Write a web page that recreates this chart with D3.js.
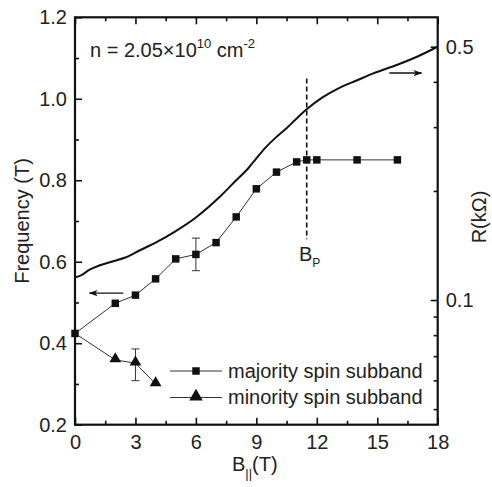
<!DOCTYPE html>
<html><head><meta charset="utf-8">
<script src="https://cdn.jsdelivr.net/npm/d3@7/dist/d3.min.js"></script>
<style>
body{margin:0;background:#fff;}
text{font-family:"Liberation Sans",Arial,Helvetica,sans-serif;fill:#222;}
</style></head>
<body><svg id="c" width="492" height="487"></svg>
<script>
// ---- data ----
const majorityB = [0, 2, 3, 4, 5, 6, 7, 8, 9, 10, 11, 11.5, 12, 14, 16];
const majorityF = [0.424, 0.498, 0.518, 0.558, 0.607, 0.618, 0.647, 0.710, 0.779, 0.820, 0.845, 0.850, 0.850, 0.850, 0.850];
const minorityB = [0, 2, 3, 4];
const minorityF = [0.424, 0.359, 0.351, 0.300];
const errorB = [6, 3];
const errorLow = [0.578, 0.308];
const errorHigh = [0.658, 0.386];
const curveB = [0, 0.3, 0.75, 1.2, 1.9, 2.5, 3.2, 4.0, 5.0, 6.0, 7.2, 8.0, 8.6, 9.0, 9.5, 10.0, 10.5, 11.0, 11.5, 12.3, 13.2, 14.0, 14.8, 16.0, 17.0, 18.0];
const curveR = [0.1155, 0.117, 0.1215, 0.1245, 0.128, 0.131, 0.137, 0.144, 0.155, 0.169, 0.193, 0.214, 0.231, 0.246, 0.265, 0.282, 0.298, 0.317, 0.336, 0.363, 0.387, 0.404, 0.422, 0.446, 0.470, 0.500];
const xTicks = [0, 3, 6, 9, 12, 15, 18];
const xMinor = [1.5, 4.5, 7.5, 10.5, 13.5, 16.5];
const yTicks = [0.2, 0.4, 0.6, 0.8, 1.0, 1.2];
const yMinor = [0.3, 0.5, 0.7, 0.9, 1.1];
const rTicks = [0.1, 0.5];
const rMinor = [0.05, 0.06, 0.07, 0.08, 0.09, 0.2, 0.3, 0.4];
const legendLabels = ["majority spin subband", "minority spin subband"];
const bP = 11.5, bPrange = [0.655, 1.05];

// ---- scales ----
const L = 75, R = 437.7, T = 17.3, B = 424.7;
const x = d3.scaleLinear().domain([0, 18]).range([L, R]);
const y = d3.scaleLinear().domain([0.2, 1.2]).range([B, T]);
const yr = d3.scaleLog().domain([0.04529, 0.6028]).range([B, T]);

const svg = d3.select("#c");
const fs = 20;

function styleAxis(g) {
  g.selectAll(".domain").remove();
  g.selectAll(".tick line").attr("stroke", "#111").attr("stroke-width", 1.6);
  g.selectAll(".tick text").attr("font-size", fs).attr("fill", "#222")
    .style("font-family", '"Liberation Sans",Arial,sans-serif');
}
// bottom
svg.append("g").attr("transform", `translate(0,${B})`)
  .call(d3.axisBottom(x).tickValues(xTicks).tickSize(-7).tickPadding(10).tickFormat(d3.format("d")))
  .call(styleAxis);
svg.append("g").attr("transform", `translate(0,${B})`)
  .call(d3.axisBottom(x).tickValues(xMinor).tickSize(-4).tickFormat(""))
  .call(styleAxis);
// top
svg.append("g").attr("transform", `translate(0,${T})`)
  .call(d3.axisTop(x).tickValues(xTicks).tickSize(-7).tickFormat(""))
  .call(styleAxis);
svg.append("g").attr("transform", `translate(0,${T})`)
  .call(d3.axisTop(x).tickValues(xMinor).tickSize(-4).tickFormat(""))
  .call(styleAxis);
// left
svg.append("g").attr("transform", `translate(${L},0)`)
  .call(d3.axisLeft(y).tickValues(yTicks).tickSize(-7).tickPadding(8).tickFormat(d3.format(".1f")))
  .call(styleAxis);
svg.append("g").attr("transform", `translate(${L},0)`)
  .call(d3.axisLeft(y).tickValues(yMinor).tickSize(-4).tickFormat(""))
  .call(styleAxis);
// right
svg.append("g").attr("transform", `translate(${R},0)`)
  .call(d3.axisRight(yr).tickValues(rTicks).tickSize(-7).tickPadding(8).tickFormat(d3.format(".1f")))
  .call(styleAxis);
svg.append("g").attr("transform", `translate(${R},0)`)
  .call(d3.axisRight(yr).tickValues(rMinor).tickSize(-4).tickFormat(""))
  .call(styleAxis);

// frame
svg.append("rect").attr("x", L).attr("y", T).attr("width", R - L).attr("height", B - T)
  .attr("fill", "none").attr("stroke", "#111").attr("stroke-width", 2.2);

// resistance curve
const curve = curveB.map((b, i) => [b, curveR[i]]);
svg.append("path").datum(curve)
  .attr("d", d3.line().x(d => x(d[0])).y(d => yr(d[1])).curve(d3.curveMonotoneX))
  .attr("fill", "none").attr("stroke", "#111").attr("stroke-width", 2);

// dashed Bp line
svg.append("line").attr("x1", x(bP)).attr("x2", x(bP)).attr("y1", y(bPrange[1])).attr("y2", y(bPrange[0]))
  .attr("stroke", "#111").attr("stroke-width", 1.6).attr("stroke-dasharray", "5,3");

// error bars
errorB.forEach((b, i) => {
  const g = svg.append("g").attr("stroke", "#333").attr("stroke-width", 1);
  g.append("line").attr("x1", x(b)).attr("x2", x(b)).attr("y1", y(errorLow[i])).attr("y2", y(errorHigh[i]));
  [errorLow[i], errorHigh[i]].forEach(v => g.append("line").attr("x1", x(b) - 4).attr("x2", x(b) + 4).attr("y1", y(v)).attr("y2", y(v)));
});

// series lines
const maj = majorityB.map((b, i) => [b, majorityF[i]]);
const minr = minorityB.map((b, i) => [b, minorityF[i]]);
const line = d3.line().x(d => x(d[0])).y(d => y(d[1]));
svg.append("path").datum(maj).attr("d", line).attr("fill", "none").attr("stroke", "#333").attr("stroke-width", 1);
svg.append("path").datum(minr).attr("d", line).attr("fill", "none").attr("stroke", "#333").attr("stroke-width", 1);

const sq = d3.symbol().type(d3.symbolSquare).size(56);
const tri = d3.symbol().type(d3.symbolTriangle).size(60);
svg.selectAll(".sq").data(maj).enter().append("path")
  .attr("transform", d => `translate(${x(d[0])},${y(d[1])})`).attr("d", sq).attr("fill", "#111");
svg.selectAll(".tri").data(minr.slice(1)).enter().append("path")
  .attr("transform", d => `translate(${x(d[0])},${y(d[1]) - 1})`).attr("d", tri).attr("fill", "#111");

// arrows
svg.append("defs").append("marker").attr("id", "ah").attr("viewBox", "0 0 10 10")
  .attr("refX", 9).attr("refY", 5).attr("markerWidth", 9).attr("markerHeight", 9)
  .attr("markerUnits", "userSpaceOnUse").attr("orient", "auto")
  .append("path").attr("d", "M0,1.5 L10,5 L0,8.5 L2.5,5 Z").attr("fill", "#111");
svg.append("line").attr("x1", x(2.4)).attr("x2", x(0.72)).attr("y1", y(0.523)).attr("y2", y(0.523))
  .attr("stroke", "#111").attr("stroke-width", 1.4).attr("marker-end", "url(#ah)");
svg.append("line").attr("x1", x(15.6)).attr("x2", x(17.2)).attr("y1", yr(0.423)).attr("y2", yr(0.423))
  .attr("stroke", "#111").attr("stroke-width", 1.4).attr("marker-end", "url(#ah)");

// legend
const lg = svg.append("g");
[0, 1].forEach(i => {
  const yy = 371 + i * 26.5;
  lg.append("line").attr("x1", 170).attr("x2", 222).attr("y1", yy).attr("y2", yy).attr("stroke", "#333").attr("stroke-width", 1);
  lg.append("path").attr("transform", `translate(196,${yy - (i ? 1 : 0)})`).attr("d", i ? d3.symbol().type(d3.symbolTriangle).size(80)() : sq()).attr("fill", "#111");
  lg.append("text").attr("x", 228).attr("y", yy + 6.5).attr("font-size", fs).text(legendLabels[i]);
});

// annotation
const ann = svg.append("text").attr("x", 90).attr("y", 57).attr("font-size", fs);
ann.append("tspan").text("n = 2.05×10");
ann.append("tspan").attr("font-size", 13).attr("dy", -9).text("10");
ann.append("tspan").attr("dy", 9).text(" cm");
ann.append("tspan").attr("font-size", 13).attr("dy", -9).text("-2");

// Bp label
const bp = svg.append("text").attr("x", 299).attr("y", 261).attr("font-size", fs);
bp.append("tspan").text("B");
bp.append("tspan").attr("font-size", 12).attr("dy", 6).text("P");

// axis titles
const xt = svg.append("text").attr("x", 232).attr("y", 471).attr("font-size", fs);
xt.append("tspan").text("B");
xt.append("tspan").attr("font-size", 13).attr("dy", 7).text("||");
xt.append("tspan").attr("dy", -7).text("(T)");

svg.append("text").attr("transform", `translate(29,${(T + B) / 2}) rotate(-90)`)
  .attr("text-anchor", "middle").attr("font-size", fs).text("Frequency (T)");
svg.append("text").attr("transform", `translate(486,217) rotate(-90)`)
  .attr("text-anchor", "middle").attr("font-size", fs).text("R(kΩ)");
</script></body></html>
